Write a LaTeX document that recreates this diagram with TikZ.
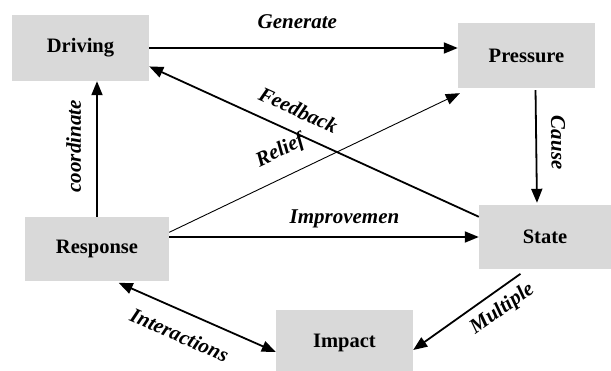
\documentclass[tikz,border=0pt]{standalone}
\usepackage{fontspec}
\setmainfont{Liberation Serif}
\usepackage{tikz}
\usetikzlibrary{
  arrows.meta,
  positioning,
}
\definecolor{boxgray}{RGB}{217, 217, 217}
\tikzstyle{box} = [
  rectangle,
  fill=boxgray,
  inner sep=0pt,
  font=\fontsize{20.5}{24}\selectfont\bfseries,
  text=black,
]
\tikzstyle{arrow} = [
  -{Triangle[length=14pt,width=11pt]},
  line width=1.8pt,
]
\tikzstyle{revarrow} = [
  {Triangle[length=14pt,width=11pt]}-,
  line width=1.8pt,
]
\tikzstyle{dblarrow} = [
  {Triangle[length=14pt,width=11pt]}-{Triangle[length=14pt,width=11pt]},
  line width=1.8pt,
]
\tikzstyle{lbl} = [
  sloped,
  inner sep=2pt,
  font=\fontsize{21}{24}\selectfont\bfseries\itshape,
]

\begin{document}
\begin{tikzpicture}[x=1pt,y=-1pt]

        \useasboundingbox (0,0) rectangle (611,370);
        \clip (0,0) rectangle (611,370);

        \node[box,minimum width=137,minimum height=66] (driving)  at (80.5,48)  {Driving};
        \node[box,minimum width=137,minimum height=65] (pressure) at (526.5,55.5) {Pressure};
        \node[box,minimum width=144,minimum height=64] (response) at (97,249)   {Response};
        \node[box,minimum width=132,minimum height=64] (state)    at (545,237)  {State};
        \node[box,minimum width=137,minimum height=66] (impact)   at (344.5,343) {Impact};

        \draw[arrow] (driving.east) -- (driving.east -| pressure.west)
          node[lbl,pos=0.48,above=16pt] {Generate};
        \draw[arrow,shorten <=2pt,shorten >=2pt] ([xshift=9pt]pressure.south) -- ([xshift=-8pt]state.north)
          node[lbl,pos=0.47,above=12pt] {Cause};
        \draw[revarrow] (driving.-15) -- (state.163)
          node[lbl,pos=0.425,above=12pt] {Feedback};
        \draw[arrow,line width=0.9pt] (response.13) -- ([shift={(2pt,-5pt)}]pressure.south west)
          node[lbl,pos=0.42,above=13pt] {Relief};
        \draw[arrow] (state.west -| response.east) -- (state.west)
          node[lbl,pos=0.566,above=6pt] {Improvemen};
        \draw[arrow] (response.north) -- (response.north |- driving.south)
          node[lbl,pos=0.52,above=13pt] {coordinate};
        \draw[revarrow,shorten >=8pt] ([yshift=-7pt]impact.east) -- ([xshift=-18pt]state.south)
          node[lbl,pos=0.69,below=6pt] {Multiple};
        \draw[dblarrow,shorten <=4pt] ([xshift=18pt]response.south) -- ([yshift=-9pt]impact.west)
          node[lbl,pos=0.46,below=13pt] {Interactions};

      \end{tikzpicture}
\end{document}
